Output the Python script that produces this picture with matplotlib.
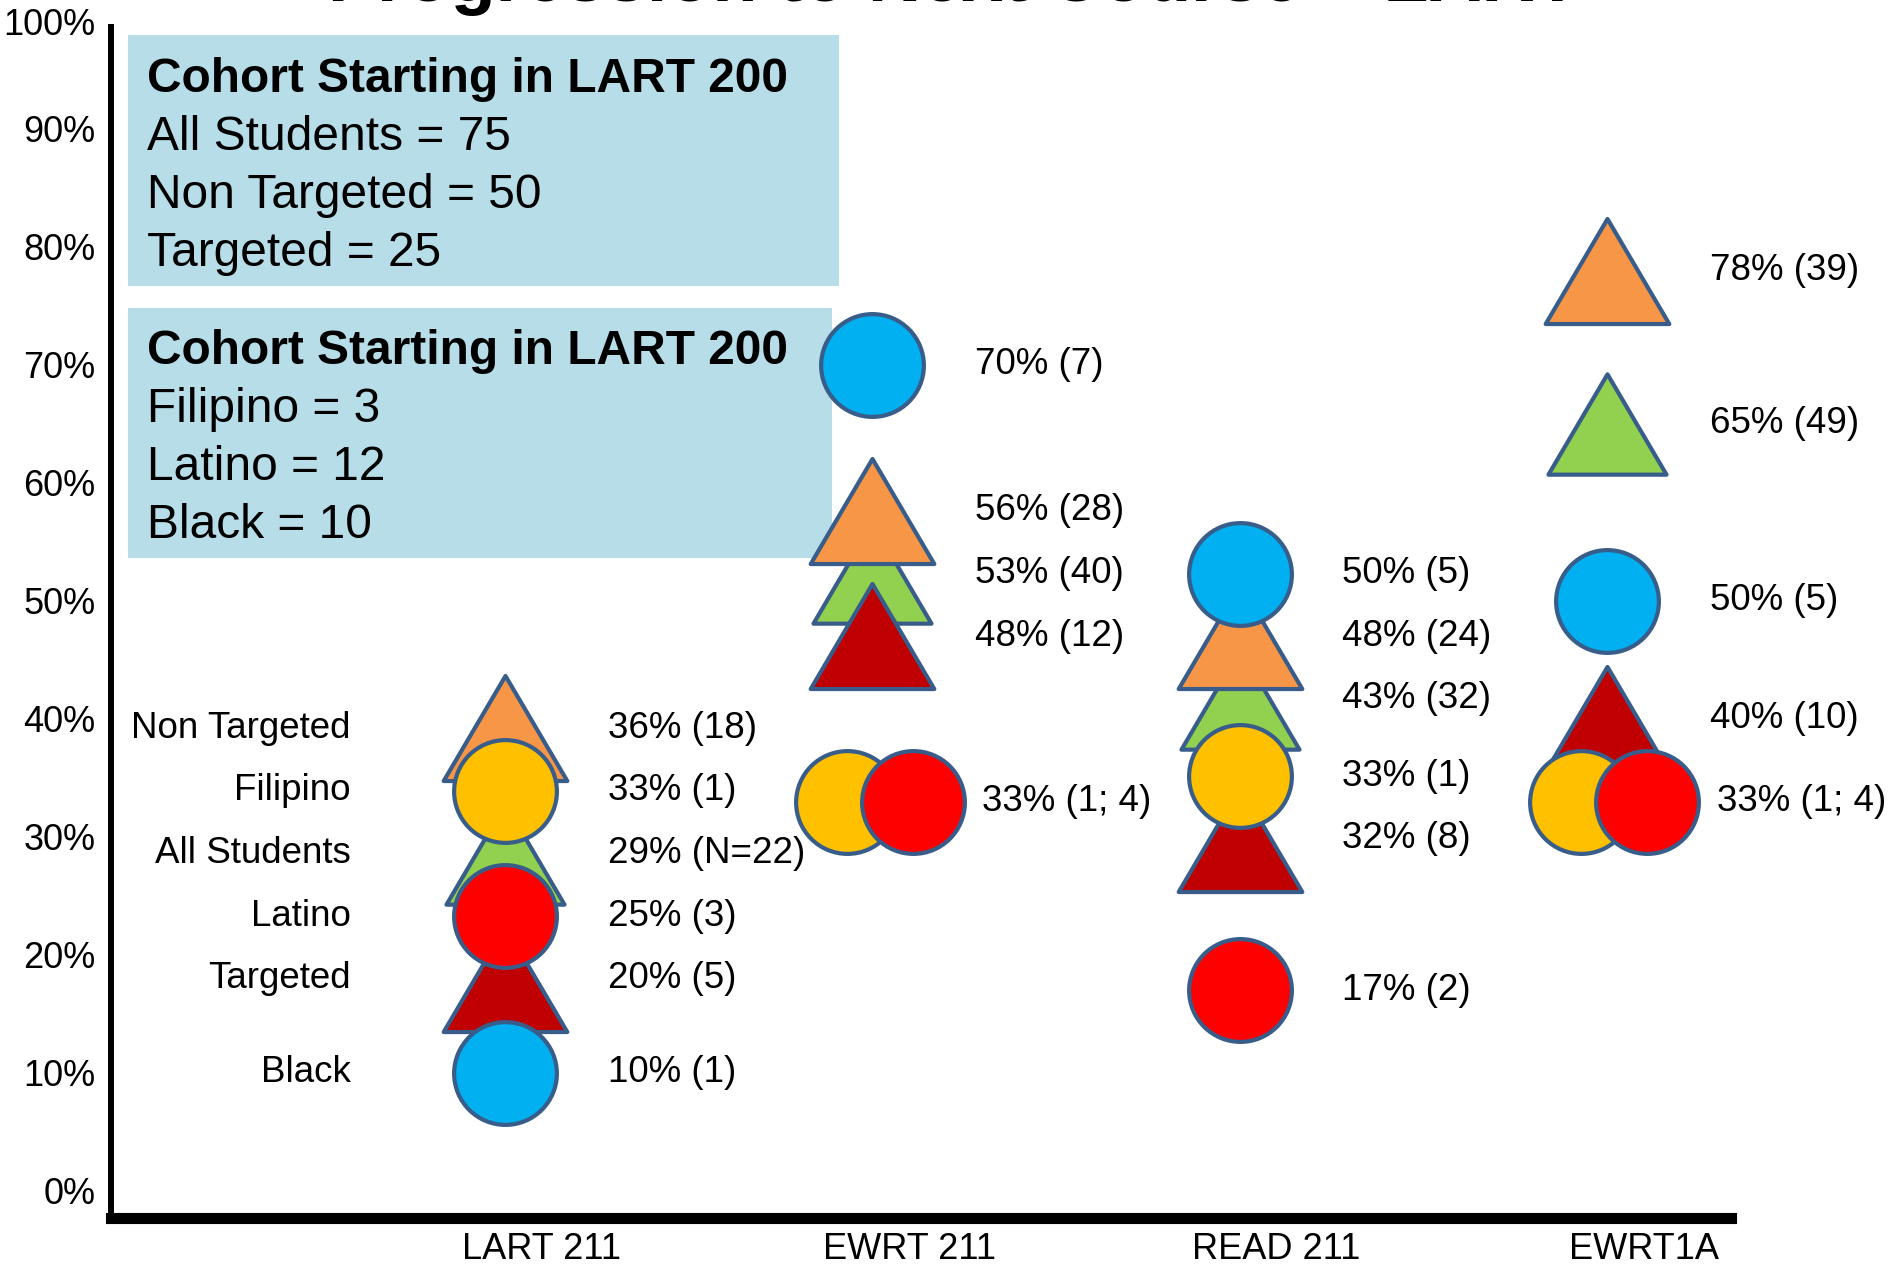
import numpy as np
import matplotlib
matplotlib.use("Agg")
import matplotlib.pyplot as plt
from matplotlib.patches import Rectangle
from matplotlib.path import Path
from matplotlib.transforms import ScaledTranslation

plt.rcParams["font.family"] = ["Liberation Sans", "DejaVu Sans"]

# -------------------- data --------------------
courses = ["LART 211", "EWRT 211", "READ 211", "EWRT1A"]
groups = ["Non Targeted", "Filipino", "All Students", "Latino", "Targeted", "Black"]

# percent progressing, one value per course
non_targeted = [36, 56, 48, 78]
filipino = [33, 33, 33, 33]
all_students = [29, 53, 43, 65]
latino = [25, 33, 17, 33]
targeted = [20, 48, 32, 40]
black = [10, 70, 50, 50]

# head counts shown in brackets
n_non_targeted = [18, 28, 24, 39]
n_filipino = [1, 1, 1, 1]
n_all_students = [22, 40, 32, 49]
n_latino = [3, 4, 2, 4]
n_targeted = [5, 12, 8, 10]
n_black = [1, 7, 5, 5]

y_ticks = list(range(0, 101, 10))
y_ticklabels = [f"{t}%" for t in y_ticks]

title = "Progression to Next Course \u2013 LART"
box_title = "Cohort Starting in LART 200"
cohort_lines = ["All Students = 75", "Non Targeted = 50", "Targeted = 25"]
ethnic_lines = ["Filipino = 3", "Latino = 12", "Black = 10"]

pct = dict(zip(groups, [non_targeted, filipino, all_students, latino, targeted, black]))
cnt = dict(zip(groups, [n_non_targeted, n_filipino, n_all_students, n_latino, n_targeted, n_black]))

# -------------------- styles --------------------
W, H = 1895, 1272
EDGE = "#385D8A"
BOX = "#B7DEE8"
colors = {
    "Non Targeted": "#F79646",
    "Filipino": "#FFC000",
    "All Students": "#92D050",
    "Latino": "#FF0000",
    "Targeted": "#C00000",
    "Black": "#00B0F0",
}
tri = Path([(-1, -0.85), (1, -0.85), (0, 0.85), (-1, -0.85)],
           [Path.MOVETO, Path.LINETO, Path.LINETO, Path.CLOSEPOLY])
markers = {"Non Targeted": tri, "Filipino": "o", "All Students": tri,
           "Latino": "o", "Targeted": tri, "Black": "o"}
msize = {"Non Targeted": 89, "Filipino": 74, "All Students": 85,
         "Latino": 74, "Targeted": 89, "Black": 74}
zord = {"All Students": 3, "Non Targeted": 4, "Targeted": 5,
        "Filipino": 6, "Latino": 7, "Black": 8}
dodge = {"Filipino": -0.07, "Latino": 0.11}   # side by side when tied
GAP = 5.3   # min vertical distance between stacked shapes (in % units)


def spread(vals, gap):
    """vals sorted high->low; push neighbours apart keeping cluster means."""
    blocks = []
    for i in range(len(vals)):
        blocks.append([i])
        while len(blocks) > 1:
            a, b = blocks[-2], blocks[-1]
            ca = np.mean([vals[k] for k in a])
            cb = np.mean([vals[k] for k in b])
            low_a = ca - (len(a) - 1) * gap / 2
            high_b = cb + (len(b) - 1) * gap / 2
            if low_a - high_b < gap:
                blocks[-2:] = [a + b]
            else:
                break
    pos = [0.0] * len(vals)
    for blk in blocks:
        c = np.mean([vals[k] for k in blk])
        for j, k in enumerate(blk):
            pos[k] = c + ((len(blk) - 1) / 2 - j) * gap
    return pos


# -------------------- figure --------------------
fig = plt.figure(figsize=(W / 100, H / 100), dpi=100)
y_lo = (1191 - 1218) / 11.8
y_hi = 100.5
ax = fig.add_axes([111 / W, 1 - 1218 / H, (1731 - 111) / W, (1218 - (1191 - 11.8 * y_hi)) / H])
ax.patch.set_visible(False)
ax.set_xlim((111 - 505) / 367.3, (1731 - 505) / 367.3)
ax.set_ylim(y_lo, y_hi)

xs = {g: [] for g in groups}
ys = {g: [] for g in groups}
for ci in range(len(courses)):
    vals = sorted({pct[g][ci] for g in groups}, reverse=True)
    slot_y = dict(zip(vals, spread(vals, GAP)))
    for v in vals:
        members = [g for g in groups if pct[g][ci] == v]
        for g in members:
            dx = dodge.get(g, 0) if len(members) > 1 else 0
            xs[g].append(ci + dx)
            ys[g].append(slot_y[v])
        ns = "; ".join(
            (f"N={cnt[g][ci]}" if (g == "All Students" and ci == 0) else str(cnt[g][ci]))
            for g in members)
        lx = ci + 0.28 + (0.02 if len(members) > 1 else 0)
        ax.text(lx, slot_y[v], f"{v}% ({ns})", ha="left", va="center",
                fontsize=26.5, zorder=10)
        if ci == 0:
            ax.text(-0.42, slot_y[v], members[0], ha="right", va="center",
                    fontsize=26.5, zorder=10)

for g in groups:
    ax.plot(xs[g], ys[g], ls="none", marker=markers[g], ms=msize[g],
            mfc=colors[g], mec=EDGE, mew=3, zorder=zord[g], clip_on=False)

ax.set_yticks(y_ticks, y_ticklabels)
ax.set_xticks(np.arange(len(courses)) + 0.1, courses)
ax.tick_params(axis="y", length=0, pad=11, labelsize=26)
ax.tick_params(axis="x", length=0, pad=10, labelsize=26)
# top label sits a little lower on the slide
top_lab = ax.get_yticklabels()[-1]
top_lab.set_transform(top_lab.get_transform() + ScaledTranslation(0, -0.11, fig.dpi_scale_trans))
for s in ["top", "right"]:
    ax.spines[s].set_visible(False)
ax.spines["left"].set_linewidth(4.3)
ax.spines["left"].set_bounds(y_lo, (1191 - 27) / 11.8)
ax.spines["bottom"].set_linewidth(8)

# cohort boxes (slide annotations)
for (x0, y0, x1, y1) in [(128, 35, 839, 286), (128, 308, 832, 558)]:
    fig.patches.append(Rectangle((x0 / W, 1 - y1 / H), (x1 - x0) / W, (y1 - y0) / H,
                                 transform=fig.transFigure, fc=BOX, ec="none", zorder=-1))
for top, lines in [(92, cohort_lines), (364, ethnic_lines)]:
    fig.text(147 / W, 1 - top / H, box_title, ha="left", va="baseline",
             fontsize=34.5, fontweight="bold")
    for k, line in enumerate(lines):
        fig.text(147 / W, 1 - (top + 58 * (k + 1)) / H, line, ha="left",
                 va="baseline", fontsize=34.5)

fig.text(954 / W, 1 - 1.5 / H, title, ha="center", va="baseline",
         fontsize=53, fontweight="bold")

fig.savefig("out.png", dpi=100)
